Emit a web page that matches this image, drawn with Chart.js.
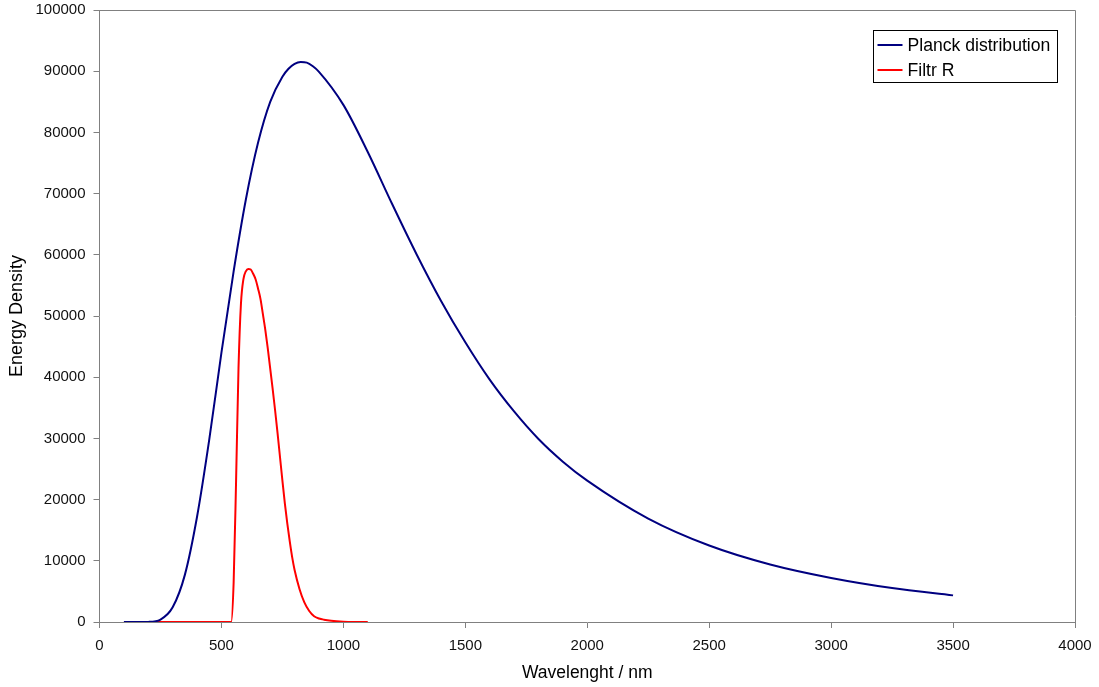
<!DOCTYPE html>
<html>
<head>
<meta charset="utf-8">
<script src="https://cdn.jsdelivr.net/npm/chart.js@4/dist/chart.umd.min.js"></script>
<style>
  html, body { margin: 0; padding: 0; background: #fff; }
  #wrap { width: 1099px; height: 687px; }
</style>
</head>
<body>
<div id="wrap"><canvas id="chart" width="1099" height="687"></canvas></div>
<script>
// wavelength (nm) / energy density
const planckNm = [100, 150, 200, 250, 300, 350, 400, 450, 500, 550, 600, 650, 700, 750, 775, 800, 825,
                  850, 875, 900, 1000, 1100, 1200, 1300, 1400, 1500, 1600, 1700, 1800, 1900, 2000, 2250,
                  2500, 2750, 3000, 3250, 3500];
const planckVal = [0, 0, 20, 400, 2400, 7700, 17200, 29800, 44000, 57300, 69000, 78300, 85000, 89100,
                   90400, 91200, 91500, 91400, 90800, 89900, 84500, 76800, 68300, 60100, 52500, 45700,
                   39600, 34400, 29900, 26200, 23100, 16900, 12500, 9400, 7200, 5550, 4350];

const filterNm = [200, 300, 400, 500, 540, 550, 560, 570, 580, 590, 600, 610, 620, 630, 640, 650, 660,
                  670, 680, 690, 700, 710, 720, 730, 740, 750, 760, 770, 780, 790, 800, 820, 840, 860,
                  880, 900, 920, 950, 1000, 1050, 1100];
const filterVal = [0, 0, 0, 0, 0, 6400, 23000, 41500, 52000, 56000, 57300, 57700, 57600, 56900, 56000,
                   54500, 52800, 50300, 47700, 44700, 41400, 38100, 34600, 30900, 27000, 23100, 19400,
                   16100, 13200, 10600, 8500, 5400, 3200, 1800, 950, 580, 380, 200, 60, 10, 0];

const xTicks = [0, 500, 1000, 1500, 2000, 2500, 3000, 3500, 4000];
const yTicks = [0, 10000, 20000, 30000, 40000, 50000, 60000, 70000, 80000, 90000, 100000];

const toPts = (xs, ys) => xs.map((x, i) => ({x: x, y: ys[i]}));
const axisGray = '#808080';
const font = 'Liberation Sans, Arial, sans-serif';

// plot frame + boxed legend like the original
const frameAndLegend = {
    id: 'frameAndLegend',
    afterDraw(chart) {
        const c = chart.ctx;
        const a = chart.chartArea;
        c.save();
        c.strokeStyle = axisGray;
        c.lineWidth = 1;
        c.beginPath();
        c.moveTo(a.left - 5, Math.round(a.top) + 0.5);
        c.lineTo(Math.round(a.right) + 0.5, Math.round(a.top) + 0.5);
        c.lineTo(Math.round(a.right) + 0.5, a.bottom);
        c.stroke();

        // legend box
        const bx = 873.5, by = 30.5, bw = 184, bh = 52;
        c.fillStyle = '#fff';
        c.fillRect(bx, by, bw, bh);
        c.strokeStyle = '#000';
        c.lineWidth = 1;
        c.strokeRect(bx, by, bw, bh);
        c.font = '17.6px ' + font;
        c.textBaseline = 'middle';
        chart.data.datasets.forEach((ds, i) => {
            const y = by + 14.5 + i * 25;
            c.strokeStyle = ds.borderColor;
            c.lineWidth = 2;
            c.beginPath();
            c.moveTo(bx + 4, y);
            c.lineTo(bx + 29, y);
            c.stroke();
            c.fillStyle = '#000';
            c.fillText(ds.label, bx + 34, y + 1);
        });
        c.restore();
    }
};

new Chart(document.getElementById('chart').getContext('2d'), {
    type: 'scatter',
    data: {
        datasets: [
            {
                label: 'Planck distribution',
                data: toPts(planckNm, planckVal),
                showLine: true,
                borderColor: '#000080',
                borderWidth: 2,
                pointRadius: 0,
                cubicInterpolationMode: 'monotone',
            },
            {
                label: 'Filtr R',
                data: toPts(filterNm, filterVal),
                showLine: true,
                borderColor: '#ff0000',
                borderWidth: 2,
                pointRadius: 0,
                cubicInterpolationMode: 'monotone',
            },
        ]
    },
    options: {
        responsive: false,
        animation: false,
        layout: { padding: { top: 10, right: 24, bottom: 0, left: 0 } },
        scales: {
            x: {
                type: 'linear',
                min: 0, max: 4000,
                afterBuildTicks: s => { s.ticks = xTicks.map(v => ({value: v})); },
                afterFit: s => { s.height = 65; s.paddingLeft = 0; s.paddingRight = 0; },
                grid: { drawOnChartArea: false, drawTicks: true, tickLength: 6, tickColor: axisGray },
                border: { display: true, color: axisGray, width: 1 },
                ticks: { color: '#111', padding: 9, maxRotation: 0, font: { family: font, size: 15 },
                         callback: v => String(v) },
                title: { display: true, text: 'Wavelenght / nm', color: '#000',
                         font: { family: font, size: 17.5 }, padding: { top: 0, bottom: 3 } },
            },
            y: {
                type: 'linear',
                min: 0, max: 100000,
                afterBuildTicks: s => { s.ticks = yTicks.map(v => ({value: v})); },
                afterFit: s => { s.width = 99.5; s.paddingTop = 0; s.paddingBottom = 0; },
                grid: { drawOnChartArea: false, drawTicks: true, tickLength: 6, tickColor: axisGray },
                border: { display: true, color: axisGray, width: 1 },
                ticks: { color: '#111', padding: 8, font: { family: font, size: 15 },
                         callback: v => String(v) },
                title: { display: true, text: 'Energy Density', color: '#000',
                         font: { family: font, size: 18 }, padding: { top: 6, bottom: 0 } },
            }
        },
        plugins: {
            legend: { display: false },
            tooltip: { enabled: false },
        }
    },
    plugins: [frameAndLegend]
});
</script>
</body>
</html>
